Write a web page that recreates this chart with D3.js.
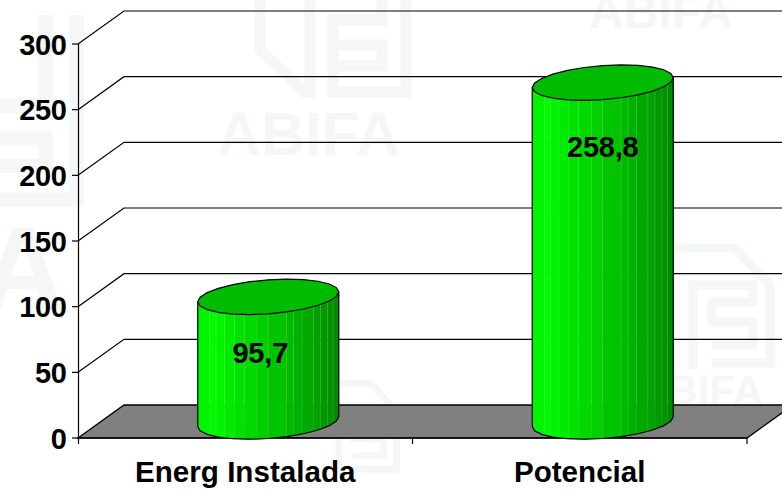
<!DOCTYPE html>
<html><head><meta charset="utf-8">
<script src="https://cdn.jsdelivr.net/npm/d3@7"></script>
<style>html,body{margin:0;padding:0;background:#fff}svg{display:block}text{font-family:"Liberation Sans",Arial,sans-serif}</style>
</head><body><div id="c"></div>
<script>
const categories = ["Energ Instalada", "Potencial"];
const values = [95.7, 258.8];
const valueLabels = ["95,7", "258,8"];
const tickValues = [0, 50, 100, 150, 200, 250, 300];

const W = 782, H = 490;
const svg = d3.select("#c").append("svg").attr("width", W).attr("height", H);

const x = d3.scaleBand().domain(categories).range([78, 747]);
const y = d3.scaleLinear().domain([0, 300]).range([438, 44]);
const dx = 46, dy = -33;

// faint watermark
const wmColor = "#f5f6f6";
const wm = svg.append("g").attr("fill", wmColor);
[[217,155,61],[589,28,48],[637,405,42]].forEach(d =>
  wm.append("text").attr("x", d[0]).attr("y", d[1]).attr("font-size", d[2]).attr("font-weight", "bold").text("ABIFA"));
wm.append("text").attr("x", -20).attr("y", 310).attr("font-size", 118).attr("font-weight", "bold").text("A");
const logo = transform => {
  const g = svg.append("g").attr("transform", transform)
    .attr("fill", "none").attr("stroke", wmColor).attr("stroke-width", 11);
  g.append("path").attr("d", "M6,-50 V50 L50,92 H56 V-50");
  g.append("path").attr("d", "M152,-50 V92 H79 V20 H128 V-50");
  g.append("path").attr("d", "M79,45 H128 V66 H79");
};
const logoB = transform => {
  const g = svg.append("g").attr("transform", transform)
    .attr("fill", "none").attr("stroke", wmColor).attr("stroke-width", 9);
  g.append("path").attr("d", "M0,0 H75 L110,37 V115 H52");
  g.append("path").attr("d", "M33,122 V37 H93 V54 H52 V74 H93 V97 H52");
};
logo("translate(254,0)");
logoB("translate(660,248)");
logoB("translate(314,383) scale(0.75)");
logo("translate(-121,80) scale(1.3)");

// floor
svg.append("path")
  .attr("d", d3.line()([[78, y(0)], [78 + dx, y(0) + dy], [747 + dx, y(0) + dy], [747, y(0)]]) + "Z")
  .attr("fill", "#808080").attr("stroke", "#000").attr("stroke-width", 1.3);

// gridlines
const grid = svg.append("g").attr("fill", "none").attr("stroke", "#000").attr("stroke-width", 1.2);
tickValues.filter(v => v > 0).forEach(v => {
  grid.append("path").attr("d", d3.line()([[78, y(v)], [78 + dx, y(v) + dy], [W, y(v) + dy]]));
});

// axes
const axes = svg.append("g").attr("stroke", "#000").attr("stroke-width", 1.2);
axes.append("line").attr("x1", 78.5).attr("x2", 78.5).attr("y1", y(300)).attr("y2", y(0) + 6);
axes.append("line").attr("x1", 78).attr("x2", 747).attr("y1", y(0)).attr("y2", y(0));
tickValues.forEach(v => axes.append("line").attr("x1", 72).attr("x2", 78).attr("y1", y(v)).attr("y2", y(v)));
[x.range()[0] + x.bandwidth(), x.range()[1]].forEach(p =>
  axes.append("line").attr("x1", p).attr("x2", p).attr("y1", y(0)).attr("y2", y(0) + 6));

// tick labels
svg.append("g").selectAll("text").data(tickValues).join("text")
  .attr("x", 66.5).attr("y", d => y(d) + 10.5).attr("text-anchor", "end")
  .attr("font-size", 29).attr("font-weight", "bold").attr("letter-spacing", -0.4).attr("fill", "#000").text(d => d);

svg.append("g").selectAll("text").data(categories).join("text")
  .attr("x", d => x(d) + x.bandwidth() / 2).attr("y", 482).attr("text-anchor", "middle")
  .attr("font-size", 29.6).attr("font-weight", "bold").attr("fill", "#000").text(d => d);

// cylinders
const rx = 70.5, ry = 17, tilt = 5;
const facetEdges = [0, .085, .13, .19, .26, .33, .42, .5, .63, .68, .74, .82, .87, .92, .96, 1];
const shade = d3.scaleLinear()
  .domain([0, .08, .3, .6, .85, 1])
  .range(["#00e800", "#00ff00", "#00e000", "#00c000", "#00a000", "#008800"]);
const labelShift = [-8, 0];
const labelBase = [363, 157];

categories.forEach((c, i) => {
  const cx = x(c) + x.bandwidth() / 2 + dx / 2;
  const baseY = y(0) + dy / 2;
  const topY = y(values[i]) + dy / 2 + 1;
  const g = svg.append("g");
  const pt = (t, cy) => [cx + rx * Math.cos(t), cy - tilt * Math.cos(t) + ry * Math.sin(t)];
  const tOf = f => Math.PI - Math.acos(1 - 2 * f);
  d3.pairs(facetEdges).forEach(([a, b]) => {
    const ts = d3.range(0, 5).map(k => tOf(a + (b - a) * k / 4));
    const top = ts.map(t => pt(t, topY));
    const bot = ts.map(t => pt(t, baseY)).reverse();
    g.append("path").attr("d", d3.line()(top.concat(bot)) + "Z")
      .attr("fill", shade((a + b) / 2)).attr("stroke", shade((a + b) / 2)).attr("stroke-width", 0.4);
    g.append("line").attr("x1", top[0][0]).attr("y1", top[0][1]).attr("x2", bot[4][0]).attr("y2", bot[4][1])
      .attr("stroke", "#fff").attr("stroke-opacity", 0.12).attr("stroke-width", 1);
  });
  // body outline, slightly faceted like the reference
  const ring = d3.range(0, 13).map(k => k / 12 * Math.PI);
  const outline = ring.map(t => pt(t, baseY));
  g.append("path").attr("d", d3.line()([pt(Math.PI, topY)].concat(outline.slice().reverse(), [pt(0, topY)])))
    .attr("fill", "none").attr("stroke", "#000").attr("stroke-width", 1.2);
  const cap = d3.range(0, 24).map(k => pt(k / 24 * 2 * Math.PI, topY));
  g.append("path").attr("d", d3.line()(cap) + "Z").attr("fill", "#00bb00").attr("stroke", "#000").attr("stroke-width", 1.2);
  svg.append("text").attr("x", cx + labelShift[i]).attr("y", labelBase[i]).attr("text-anchor", "middle")
    .attr("font-size", 29).attr("font-weight", "bold").attr("letter-spacing", -0.2).attr("fill", "#000").text(valueLabels[i]);
});
</script></body></html>
